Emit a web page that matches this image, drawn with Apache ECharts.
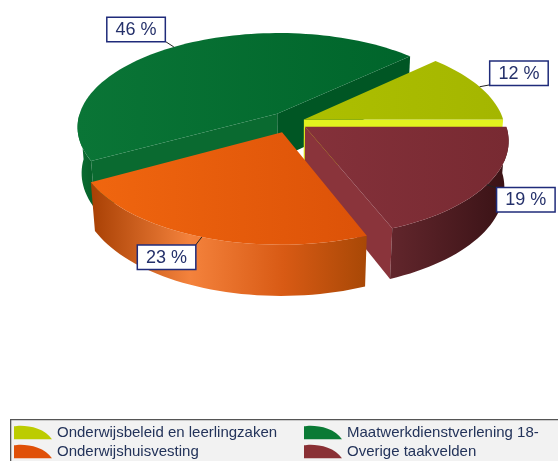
<!DOCTYPE html>
<html>
<head>
<meta charset="utf-8">
<script src="https://cdn.jsdelivr.net/npm/echarts@6.0.0/dist/echarts.min.js"></script>
<style>
  html, body { margin: 0; padding: 0; background: #fff; }
  #chart { width: 558px; height: 461px; }
</style>
</head>
<body>
<div id="chart"></div>
<script>
// gegevens
const categories = ['Onderwijsbeleid en leerlingzaken', 'Maatwerkdienstverlening 18-', 'Onderwijshuisvesting', 'Overige taakvelden'];
const shares = [12, 46, 23, 19];
const labelTexts = ['12 %', '46 %', '23 %', '19 %'];

// opmaak per taart-stuk: [offset, kleur]
const topColors = [
  [[0, '#adbf00'], [1, '#a4b600']],
  [[0, '#0a7536'], [1, '#00652b']],
  [[0, '#f0660f'], [1, '#dc5208']],
  [[0, '#84313a'], [1, '#782a32']]
];
const wallColors = [
  [[0, '#9aab00'], [1, '#8a9a00']],
  [[0, '#0b6e33'], [1, '#055f28']],
  [[0, '#a84004'], [0.36, '#f4823c'], [0.7, '#d85a14'], [1, '#a84806']],
  [[0, '#62262c'], [0.8, '#41161a'], [1, '#3a1214']]
];
const cutColors = [['#e2f21e', '#005a25'], ['#005624', '#0a6a30'], ['#c04c08', '#c04c08'], ['#8a343b', '#5a2026']];
const legendColors = ['#bccc00', '#0a7a35', '#e05008', '#8a3035'];
const explode = [0.075, 0.11, 0.115, 0.09];

// 3D perspectief
const CX = 290, CY = 122;
const R = 200;
const PHI = 28 * Math.PI / 180;
const DIST = 6.44;
const H = 0.265;
const TWO_PI = Math.PI * 2;

const total = shares.reduce((a, b) => a + b, 0);
const starts = [];
let acc = 0;
for (let i = 0; i < shares.length; i++) {
  starts.push(acc / total * TWO_PI);
  acc += shares[i];
}

function proj(X, Y, Z) {
  const depth = DIST - Y * Math.sin(PHI) + Z * Math.cos(PHI);
  const f = DIST / depth;
  return [CX + R * X * f, CY - R * (Y * Math.cos(PHI) + Z * Math.sin(PHI)) * f];
}
function rim(c, a, Y) {
  return proj(c[0] + Math.cos(a), Y || 0, c[1] + Math.sin(a));
}
function arc(c, s, e, Y) {
  const pts = [];
  const n = Math.max(2, Math.ceil((e - s) / (Math.PI / 90)));
  for (let k = 0; k <= n; k++) {
    pts.push(rim(c, s + (e - s) * k / n, Y));
  }
  return pts;
}
function avgY(pts) {
  return pts.reduce((t, p) => t + p[1], 0) / pts.length;
}
function grad(stops) {
  return new echarts.graphic.LinearGradient(0, 0, 1, 0, stops.map(([o, col]) => ({ offset: o, color: col })));
}

function renderSlice(params, api) {
  const i = params.dataIndex;
  const a0 = starts[i];
  const a1 = a0 + api.value(0) / total * TWO_PI;
  const mid = (a0 + a1) / 2;
  const c = [explode[i] * Math.cos(mid), explode[i] * Math.sin(mid)];
  const apexTop = proj(c[0], 0, c[1]);
  const apexBottom = proj(c[0], -H, c[1]);
  const children = [];

  // buitenwand (alleen voorkant zichtbaar)
  const s = Math.max(a0, Math.PI), e = Math.min(a1, TWO_PI);
  if (e > s) {
    const pts = arc(c, s, e, 0).concat(arc(c, s, e, -H).reverse());
    children.push({
      type: 'polygon', shape: { points: pts }, z2: Math.round(avgY(pts)),
      style: { fill: grad(wallColors[i]) }
    });
  }
  // snijvlakken
  [[a0, a0 - Math.PI / 2, cutColors[i][0]], [a1, a1 + Math.PI / 2, cutColors[i][1]]].forEach(([a, normal, col]) => {
    if (Math.sin(normal) >= -0.01) return;
    const pts = [apexTop, rim(c, a, 0), rim(c, a, -H), apexBottom];
    children.push({
      type: 'polygon', shape: { points: pts }, z2: Math.round(avgY(pts)),
      style: { fill: col }
    });
  });
  // bovenvlak
  const top = [apexTop].concat(arc(c, a0, a1, 0));
  children.push({
    type: 'polygon', shape: { points: top }, z2: 1000,
    style: { fill: grad(topColors[i]) }
  });
  // label met lijntje
  const anchor = rim(c, mid, 0);
  const dx = anchor[0] - apexTop[0], dy = anchor[1] - apexTop[1];
  const len = Math.hypot(dx, dy);
  const end = [anchor[0] + 11 * dx / len, anchor[1] + 11 * dy / len];
  children.push({
    type: 'line', z2: 2000,
    shape: { x1: anchor[0], y1: anchor[1], x2: end[0], y2: end[1] },
    style: { stroke: '#222', lineWidth: 1 }
  });
  children.push({
    type: 'text', z2: 2001, x: end[0], y: end[1],
    style: {
      text: labelTexts[i],
      fontSize: 18,
      fontFamily: 'Liberation Sans, Arial, sans-serif',
      fill: '#24306a',
      backgroundColor: '#fff',
      borderColor: '#1f2b7a',
      borderWidth: 1.5,
      padding: [3, 8, 2, 8],
      align: dx > 0 ? 'left' : 'right',
      verticalAlign: dy < 0 ? 'bottom' : 'top'
    }
  });
  return { type: 'group', children: children };
}

const legendText = {
  fontSize: 15,
  color: '#23335a',
  fontFamily: 'Liberation Sans, Arial, sans-serif'
};
function legendColumn(left, names) {
  return {
    orient: 'vertical',
    left: left,
    top: 425,
    padding: 0,
    itemWidth: 38,
    itemHeight: 15,
    itemGap: 4,
    selectedMode: false,
    icon: 'path://M0,15 L0,2 C8,0 30,2 38,15 Z',
    textStyle: legendText,
    data: names
  };
}

const chart = echarts.init(document.getElementById('chart'));
chart.setOption({
  animation: false,
  backgroundColor: '#fff',
  color: legendColors,
  graphic: [{
    type: 'rect',
    left: 10,
    top: 419,
    z: 0,
    shape: { width: 560, height: 50 },
    style: { fill: '#f2f2f2', stroke: '#555', lineWidth: 1.3 }
  }],
  legend: [
    legendColumn(14, [categories[0], categories[2]]),
    legendColumn(304, [categories[1], categories[3]])
  ],
  series: [
    {
      // alleen voor de legenda
      type: 'pie',
      radius: [0, 0],
      silent: true,
      label: { show: false },
      labelLine: { show: false },
      data: categories.map((n, i) => ({ name: n, value: shares[i] }))
    },
    {
      type: 'custom',
      coordinateSystem: 'none',
      renderItem: renderSlice,
      data: shares.map((v, i) => ({ name: categories[i], value: v }))
    }
  ]
});
</script>
</body>
</html>
